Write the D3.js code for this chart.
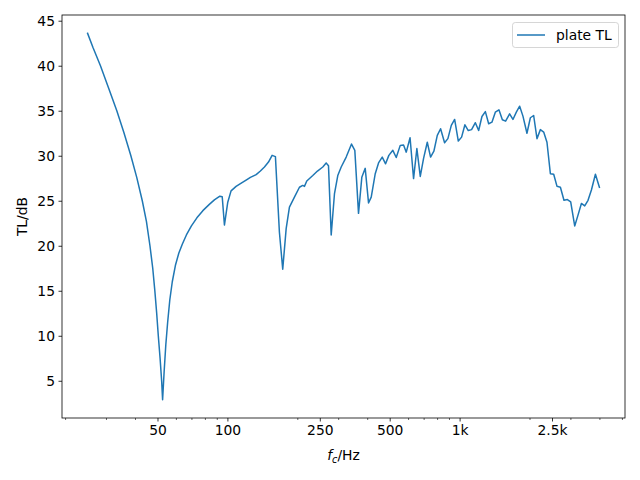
<!DOCTYPE html>
<html>
<head>
<meta charset="utf-8">
<script src="https://cdn.jsdelivr.net/npm/d3@7"></script>
<style>
  html, body { margin: 0; padding: 0; background: #fff; }
  svg { display: block; }
  text { font-family: "DejaVu Sans", sans-serif; fill: #000; }
</style>
</head>
<body>
<svg id="chart" width="640" height="480"></svg>
<script>
// ---- data ----
const freq = [25, 26.4, 28.4, 30.7, 33.4, 35.8, 38.4, 40.7, 43.0, 44.8, 46.4, 47.7, 48.7, 49.6, 50.4, 51.3, 52.1, 52.6,
  53.4, 54.3, 55.3, 56.5, 57.9, 59.7, 61.8, 64.0, 66.6, 70.0, 73.9, 78.4, 83.6, 87.9, 92.8, 95.0, 97.1,
  100.3, 103.7, 109.0, 113.8, 120.4, 125.6, 133.0, 138.7, 144.4, 150.3, 155.8, 161.0, 167.5, 173.1, 179.1, 185.0,
  194.4, 204.3, 211.1, 214.7, 219.7, 233.2, 244.3, 257.5, 266.3, 272.5, 279.9, 289.2, 298.8, 309.1, 324.8, 342.4,
  353.8, 367.0, 379.2, 392.2, 405.3, 416.3, 433.2, 447.6, 464.3, 480.0, 495.8, 515.8, 533.5, 555.1, 573.6, 589.2,
  611.8, 633.5, 654.6, 677.0, 699.6, 725.8, 749.9, 774.8, 801.5, 828.2, 861.6, 890.4, 920.9, 952.0, 987.2,
  1020, 1054, 1090, 1126, 1169, 1208, 1248, 1291, 1334, 1378, 1425, 1477, 1528, 1578, 1642, 1697, 1755, 1814,
  1874, 1950, 2017, 2084, 2154, 2228, 2302, 2378, 2460, 2542, 2627, 2717, 2815, 2912, 3009, 3131, 3235, 3346,
  3458, 3573, 3695, 3845, 4000];
const plateTL = [43.6, 42.0, 40.0, 37.6, 35.0, 32.6, 30.0, 27.6, 25.0, 22.7, 20.0, 17.5, 15.0, 12.5, 10.0, 7.5, 5.0, 2.9,
  6.0, 9.0, 11.5, 14.0, 16.0, 17.8, 19.2, 20.2, 21.2, 22.2, 23.1, 23.9, 24.6, 25.1, 25.5, 25.45, 22.3,
  24.8, 26.1, 26.6, 26.9, 27.3, 27.6, 27.9, 28.3, 28.75, 29.3, 30.04, 29.9, 21.5, 17.4, 21.9, 24.3,
  25.4, 26.5, 26.7, 26.6, 27.2, 27.8, 28.3, 28.75, 29.2, 28.9, 21.2, 25.8, 27.8, 28.75, 29.85, 31.3,
  30.6, 23.6, 27.6, 28.6, 24.76, 25.4, 28.0, 29.2, 29.85, 29.1, 30.04, 30.6, 29.8, 31.15, 31.2, 30.4,
  32.0, 27.46, 30.8, 27.7, 29.7, 31.5, 29.85, 30.5, 32.26, 33.0, 31.45, 31.9, 33.37, 34.03, 31.63,
  32.07, 33.44, 32.8, 32.9, 33.67, 32.8, 34.36, 34.9, 33.55, 33.73, 34.84, 35.1, 34.0, 33.84, 34.66, 34.03, 34.84, 35.5,
  34.4, 32.5, 34.22, 34.47, 31.9, 32.9, 32.63, 31.5, 28.0, 27.94, 26.6, 26.5, 25.05, 25.13, 24.87, 22.2, 23.4, 24.7,
  24.43, 25.05, 26.2, 27.94, 26.5];
const seriesName = "plate TL";
const xMajorTicks = [50, 100, 250, 500, 1000, 2500];
const xMajorLabels = ["50", "100", "250", "500", "1k", "2.5k"];
const xMinorTicks = [20, 30, 40, 60, 70, 80, 90, 200, 300, 400, 600, 700, 800, 900, 2000, 3000, 4000, 5000];
const yTicks = [5, 10, 15, 20, 25, 30, 35, 40, 45];

// ---- layout ----
const L = 62, R = 625, T = 15, B = 418;
const FS = 13.89;
const svg = d3.select("#chart");

const data = freq.map((f, i) => ({ f, v: plateTL[i] }));

const lf = d3.extent(freq).map(Math.log10);
const lspan = lf[1] - lf[0];
const x = d3.scaleLog()
  .domain([Math.pow(10, lf[0] - 0.05 * lspan), Math.pow(10, lf[1] + 0.05 * lspan)])
  .range([L, R]);
const ye = d3.extent(plateTL);
const yspan = ye[1] - ye[0];
const y = d3.scaleLinear()
  .domain([ye[0] - 0.05 * yspan, ye[1] + 0.05 * yspan])
  .range([B, T]);

// line
svg.append("path")
  .datum(data)
  .attr("fill", "none")
  .attr("stroke", "#1f77b4")
  .attr("stroke-width", 1.5)
  .attr("stroke-linejoin", "round")
  .attr("stroke-linecap", "square")
  .attr("d", d3.line().x(d => x(d.f)).y(d => y(d.v)));

// x axis major
const gx = svg.append("g").attr("transform", `translate(0,${B})`)
  .call(d3.axisBottom(x).tickValues(xMajorTicks)
    .tickFormat((d, i) => xMajorLabels[i]).tickSizeInner(3.5).tickSizeOuter(0).tickPadding(3.5));
gx.select(".domain").remove();
gx.selectAll("line").attr("stroke", "#000").attr("stroke-width", 0.8);
gx.selectAll("text").attr("font-size", FS).attr("font-family", "DejaVu Sans").attr("fill", "#000");

// x axis minor
const gxm = svg.append("g").attr("transform", `translate(0,${B})`)
  .call(d3.axisBottom(x).tickValues(xMinorTicks).tickFormat("").tickSizeInner(2).tickSizeOuter(0));
gxm.select(".domain").remove();
gxm.selectAll("line").attr("stroke", "#000").attr("stroke-width", 0.6);

// y axis
const gy = svg.append("g").attr("transform", `translate(${L},0)`)
  .call(d3.axisLeft(y).tickValues(yTicks).tickFormat(d3.format("d"))
    .tickSizeInner(3.5).tickSizeOuter(0).tickPadding(3.5));
gy.select(".domain").remove();
gy.selectAll("line").attr("stroke", "#000").attr("stroke-width", 0.8);
gy.selectAll("text").attr("font-size", FS).attr("font-family", "DejaVu Sans").attr("fill", "#000");

// spines
svg.append("rect")
  .attr("x", L).attr("y", T).attr("width", R - L).attr("height", B - T)
  .attr("fill", "none").attr("stroke", "#000").attr("stroke-width", 0.8);

// x label  f_c/Hz
const xl = svg.append("text")
  .attr("x", (L + R) / 2).attr("y", 460)
  .attr("text-anchor", "middle").attr("font-size", FS);
xl.append("tspan").attr("font-style", "italic").text("f");
xl.append("tspan").attr("font-style", "italic").attr("font-size", FS * 0.7).attr("dy", 3).text("c");
xl.append("tspan").attr("dy", -3).text("/Hz");

// y label
svg.append("text")
  .attr("transform", `translate(26.5,${(T + B) / 2}) rotate(-90)`)
  .attr("text-anchor", "middle").attr("font-size", FS)
  .text("TL/dB");

// legend
const lg = svg.append("g");
lg.append("rect")
  .attr("x", 512.5).attr("y", 22.5).attr("width", 106).attr("height", 25).attr("rx", 2.8)
  .attr("fill", "#fff").attr("fill-opacity", 0.8)
  .attr("stroke", "#cccccc").attr("stroke-width", 0.8);
lg.append("line")
  .attr("x1", 517).attr("x2", 545).attr("y1", 35).attr("y2", 35)
  .attr("stroke", "#1f77b4").attr("stroke-width", 1.5);
lg.append("text")
  .attr("x", 556).attr("y", 35).attr("dy", "0.36em")
  .attr("font-size", FS).text(seriesName);
</script>
</body>
</html>
